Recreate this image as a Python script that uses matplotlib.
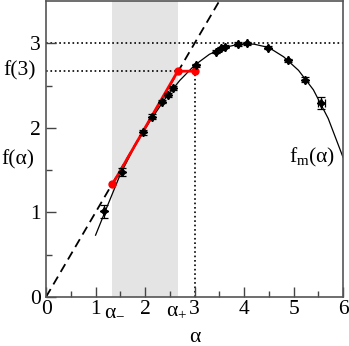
import matplotlib
matplotlib.use("Agg")
import matplotlib.pyplot as plt

plt.rcParams['font.family'] = ['Liberation Serif', 'DejaVu Serif']
plt.rcParams['mathtext.fontset'] = 'custom'
plt.rcParams['mathtext.rm'] = 'Liberation Serif'
plt.rcParams['mathtext.it'] = 'Liberation Serif'

# measured points with error bars
alpha_pts = [1.18, 1.53, 1.95, 2.15, 2.35, 2.46, 2.57, 3.02, 3.43, 3.53, 3.62, 3.87, 4.05, 4.49, 4.89, 5.23, 5.56]
f_pts = [1.01, 1.48, 1.95, 2.13, 2.31, 2.39, 2.47, 2.74, 2.90, 2.94, 2.96, 2.99, 3.00, 2.95, 2.80, 2.57, 2.29]
f_err = [0.08, 0.05, 0.03, 0.03, 0.02, 0.02, 0.02, 0.02, 0.02, 0.02, 0.02, 0.02, 0.02, 0.02, 0.02, 0.03, 0.07]
alpha_err = [0, 0, 0, 0, 0, 0, 0, 0, 0, 0, 0, 0, 0, 0, 0, 0, 0.07]

# f_m(alpha) curve
alpha_curve = [1.0, 1.2, 1.5, 1.8, 2.1, 2.4, 2.7, 3.0, 3.3, 3.6, 3.9, 4.2, 4.5, 4.8, 5.1, 5.4, 5.7, 6.0]
f_curve = [0.73, 1.02, 1.45, 1.79, 2.08, 2.34, 2.56, 2.74, 2.87, 2.95, 2.99, 2.99, 2.95, 2.84, 2.68, 2.45, 2.11, 1.65]

# red construction
red_alpha = [1.34, 2.66, 3.0]
red_f = [1.33, 2.67, 2.67]

alpha_minus = 1.34
alpha_plus = 2.66
f3 = 2.67
fmax = 3.0

fs = 15.5

fig = plt.figure(figsize=(3.49, 3.46), dpi=100)
ax = fig.add_axes([0.132, 0.142, 0.851, 0.855])

ax.axvspan(alpha_minus, alpha_plus, facecolor='#e4e4e4', edgecolor='none', zorder=0)

ax.plot([0, 3.5], [0, 3.5], 'k--', lw=1.3, dashes=(5, 3), zorder=2)
ax.plot([0, 6], [fmax, fmax], 'k:', lw=1.2, zorder=1)
ax.plot([0, 3], [f3, f3], 'k:', lw=1.2, zorder=1)
ax.plot([3, 3], [0, f3], 'k:', lw=1.2, zorder=1)

ax.plot(alpha_curve, f_curve, 'k-', lw=0.9, zorder=2)
ax.plot(red_alpha, red_f, '-o', color='#ff0000', lw=2, ms=5, zorder=3)

ax.errorbar(alpha_pts, f_pts, yerr=f_err, xerr=alpha_err, fmt='none', ecolor='k',
            elinewidth=0.9, capsize=3.2, capthick=0.9, zorder=4)
ax.plot(alpha_pts, f_pts, marker=(4, 1, 0), ls='none', color='k', ms=6, zorder=5)
ax.plot(alpha_pts, f_pts, 'ko', ms=3, zorder=5)

ax.set_xlim(0, 6)
ax.set_ylim(0, 3.5)
ax.set_xticks([0, 1, 2, 3, 4, 5, 6])
ax.set_xticks([0.5, 1.5, 2.5, 3.5, 4.5, 5.5], minor=True)
ax.set_yticks([0, 1, 2, 3])
ax.set_yticks([0.5, 1.5, 2.5], minor=True)
ax.tick_params(which='both', direction='in', top=False, right=False, labelsize=fs, color='#444444')
ax.tick_params(which='major', length=7, width=1)
ax.tick_params(which='minor', length=4, width=1)
ax.tick_params(axis='x', pad=2)
ax.tick_params(axis='y', pad=4)
for s in ax.spines.values():
    s.set_color('#555555')
    s.set_linewidth(1.2)

ax.text(alpha_minus + 0.04, -0.05, r'$\mathrm{α}_{-}$', fontsize=fs, ha='center', va='top')
ax.text(alpha_plus - 0.02, -0.05, r'$\mathrm{α}_{+}$', fontsize=fs, ha='center', va='top')
ax.text(-0.2, f3, 'f(3)', fontsize=fs, ha='right', va='center')
ax.text(-0.58, 1.62, 'f(α)', fontsize=fs, ha='center', va='center')
ax.text(5.37, 1.65, r'$\mathrm{f}_{\mathrm{m}}\mathrm{(α)}$', fontsize=fs, ha='center', va='center')
ax.set_xlabel('α', fontsize=fs, labelpad=6.5)

fig.savefig('out.png', dpi=100)
